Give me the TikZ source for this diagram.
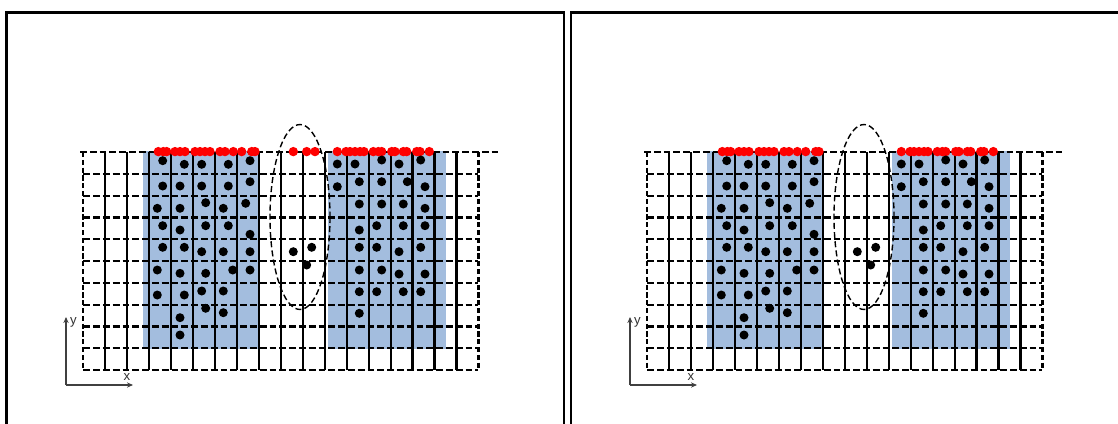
\documentclass[tikz,border=0pt]{standalone}
\usepackage{fontspec}
\setsansfont{Liberation Sans}
\usetikzlibrary{arrows.meta}
\definecolor{cellblue}{RGB}{163,189,222}
\tikzset{
  gridh/.style={line width=1.1pt, dash pattern=on 3.4pt off 1.5pt},
  gridv/.style={line width=1.1pt},
  gridedge/.style={line width=1.1pt, dash pattern=on 2.6pt off 1.3pt},
  ringdash/.style={line width=0.7pt, dash pattern=on 3pt off 1.6pt},
  bdot/.style={fill=black},
  rdot/.style={fill=red},
  axisline/.style={line width=0.55pt, draw=black!75, -{Stealth[length=3pt,width=2.6pt]}},
  lbl/.style={font=\sffamily\fontsize{6.6}{7}\selectfont, inner sep=0pt, text=black!80},
  frame/.style={line width=1.2pt}
}
\begin{document}
\begin{tikzpicture}[x=0.5pt,y=-0.5pt]
\useasboundingbox (0,0) rectangle (1118,423);
\clip (0,0) rectangle (1118,423);
\fill[white] (0,0) rectangle (1118,423);
% panel frames
\draw[frame] (6.3,440) -- (6.3,12.3) -- (563.7,12.3) -- (563.7,440);
\draw[frame] (571,440) -- (571,12.3) -- (1130,12.3);
\foreach \dx/\red/\p in {0/1/a,564/0/b}{
 \begin{scope}[shift={(\dx,0)}]
  % blue regions
  \fill[cellblue] (142.7,150.5) rectangle (260,348.6);
  \fill[cellblue] (328,150.5) rectangle (445.6,348.6);
  % grid
  \foreach \k in {1,...,17}{
    \draw[gridv] ({83.3+\k*21.95},152) -- ({83.3+\k*21.95},370);
  }
  \foreach \k in {1,...,10}{
    \draw[gridh] (83.3,{152+\k*21.8}) -- (478.4,{152+\k*21.8});
  }
  \draw[gridh] (80,152) -- (500,152);
  \draw[gridedge] (83.3,152) -- (83.3,370);
  \draw[gridedge] (478.4,152) -- (478.4,370);
  % ellipse
  \draw[ringdash] (300,217) ellipse [x radius=30, y radius=92.5];
  % red dots
  \foreach \x in {158.3,163.3,166.7,175,180,185,195,200,205,210,220,225,233.3,241.7,251.7,255,
                  337.3,346,350,355,360,364,373.3,378.3,381.7,391.7,395,403.3,406.7,416.7,420,429.3}{
    \fill[rdot] (\x,151.6) circle [radius=4.7];
  }
  \ifnum\red=1
  \foreach \x in {293.3,306.7,315}{
    \fill[rdot] (\x,151.6) circle [radius=4.7];
  }
  \fi
  % black dots
  \foreach \x/\y in {162.7/160.7,184.3/164.3,201.7/164.3,228.3/164.3,250/160.7,
    162.7/186,180/186,201.7/186,228.3/186,250/181.7,
    157.3/208.3,180/208.3,205.7/202.7,223.3/208.3,245.7/203.3,
    162.7/225.7,180/230,205.7/225.7,228.3/225.7,250/234.3,
    162.7/247.3,184.3/247.3,201.7/251.7,223.3/251.7,250/251.7,
    157.3/270,180/273.3,205.7/273.3,232.7/270,250/270,
    157.3/295,184.3/295,201.7/291,223.3/291,
    205.7/308.3,223.3/312.7,180/317.7,180/335,
    293.3/251.7,311.7/247.3,306.7/265,
    337.3/164,355/164,381.7/160,399/164,420.7/160,
    337.3/186.7,359.3/181.7,381.7/181.7,407.3/181.7,425/186.7,
    359.3/204,381.7/204,403.3/204,425/208.3,
    359.3/230,376.7/225.7,403.3/225.7,425/225.7,
    359.3/247.3,376.7/247.3,399/251.7,420.7/247.3,
    359.3/270,381.7/270,399/274,425/274,
    359.3/291.7,376.7/291.7,403.3/291.7,420.7/291.7,
    359.3/313.3}{
    \fill[bdot] (\x,\y) circle [radius=4.5];
  }
  % axes
  \coordinate (o\p) at (66,385);
  \coordinate (yt\p) at (66,317);
  \coordinate (xt\p) at (133,385);
  \draw[axisline] (o\p) -- (yt\p);
  \draw[axisline] (o\p) -- (xt\p);
  \node[lbl] (ylab\p) at (73.5,322) {y};
  \node[lbl] (xlab\p) at (127,377) {x};
 \end{scope}
}
\end{tikzpicture}
\end{document}
